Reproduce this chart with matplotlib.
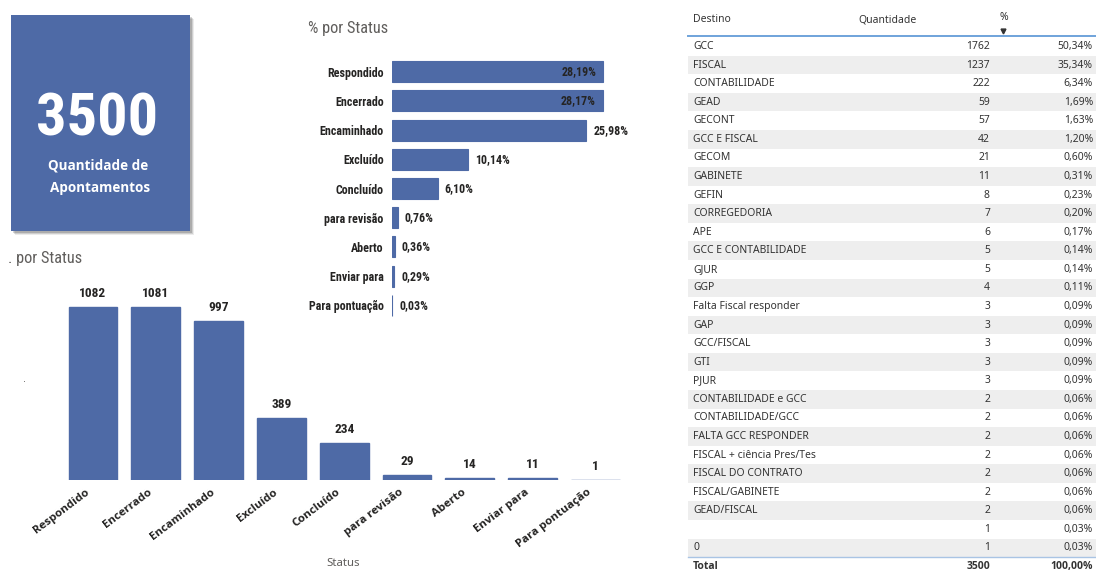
import matplotlib
matplotlib.use("Agg")
import matplotlib.pyplot as plt
from matplotlib import font_manager
from matplotlib.font_manager import FontProperties
from matplotlib.patches import Rectangle
from matplotlib.transforms import ScaledTranslation

# status counts (column chart) and share per status (bar chart)
status = ["Respondido", "Encerrado", "Encaminhado", "Excluído", "Concluído",
          "para revisão", "Aberto", "Enviar para", "Para pontuação"]
status_count = [1082, 1081, 997, 389, 234, 29, 14, 11, 1]
status_pct = [28.19, 28.17, 25.98, 10.14, 6.10, 0.76, 0.36, 0.29, 0.03]

total_apont = 3500

# destination table (visible rows)
destino = ["GCC", "FISCAL", "CONTABILIDADE", "GEAD", "GECONT", "GCC E FISCAL",
           "GECOM", "GABINETE", "GEFIN", "CORREGEDORIA", "APE",
           "GCC E CONTABILIDADE", "GJUR", "GGP", "Falta Fiscal responder",
           "GAP", "GCC/FISCAL", "GTI", "PJUR", "CONTABILIDADE e GCC",
           "CONTABILIDADE/GCC", "FALTA GCC RESPONDER",
           "FISCAL + ciência Pres/Tes", "FISCAL DO CONTRATO",
           "FISCAL/GABINETE", "GEAD/FISCAL", "", "0"]
quantidade = [1762, 1237, 222, 59, 57, 42, 21, 11, 8, 7, 6, 5, 5, 4, 3, 3, 3,
              3, 3, 2, 2, 2, 2, 2, 2, 2, 1, 1]

BLUE = "#4E6AA6"
DARK = "#252423"
GREY = "#605E5C"


def weight_of(f):
    w = f.weight
    if isinstance(w, str):
        w = font_manager.weight_dict.get(w, 400)
    return w


def find_font(names, bold, condensed=False):
    ttf = font_manager.fontManager.ttflist
    for n in names:
        for f in ttf:
            if f.name != n or f.style != "normal":
                continue
            if (weight_of(f) >= 600) != bold:
                continue
            is_cond = "condensed" in str(f.stretch)
            if n in ("Noto Sans", "Open Sans", "Roboto") and is_cond != condensed:
                continue
            return FontProperties(fname=f.fname)
    return None


narrow_names = ["Liberation Sans Narrow", "Roboto Condensed",
                "DejaVu Sans Condensed", "Noto Sans", "Open Sans", "Roboto"]
NB = find_font(narrow_names, True, True) or \
    FontProperties(family="DejaVu Sans", weight="bold")
NR = find_font(narrow_names, False, True) or \
    FontProperties(family="DejaVu Sans")
ui_names = ["Noto Sans", "Open Sans", "Lato", "DejaVu Sans"]
UB = find_font(ui_names, True) or FontProperties(family="DejaVu Sans",
                                                 weight="bold")
UR = find_font(ui_names, False) or FontProperties(family="DejaVu Sans")


def sized(fp, size):
    p = fp.copy()
    p.set_size(size)
    return p


W, H = 1096, 572


def box(x0, y0, x1, y1):
    # pixel box (top-left origin) -> figure fraction
    return [x0 / W, 1 - y1 / H, (x1 - x0) / W, (y1 - y0) / H]


def fmt_pct(v):
    return f"{v:.2f}".replace(".", ",") + "%"


fig = plt.figure(figsize=(W / 100, H / 100), dpi=100)
fig.patch.set_facecolor("white")
renderer = fig.canvas.get_renderer()


def width_px(s, fp):
    t = fig.text(0, 0, s, fontproperties=sized(fp, 10))
    w = t.get_window_extent(renderer).width
    t.remove()
    return w


# fonts sized from the pixel widths of the dashboard texts
F_KPI = sized(NB, 10 * 122 / width_px("3500", NB))
F_CAT = sized(NB, 10 * 57 / width_px("Respondido", NB))
F_VAL = sized(NB, 10 * 27 / width_px("1082", NB))
F_TTL = sized(NR, 10 * 80 / width_px("% por Status", NR))
F_TICK = sized(UB, 10 * 67 / width_px("Respondido", UB))
F_CARD = sized(UB, 10 * 100 / width_px("Quantidade de", UB))
s_tab = 10 * 82 / width_px("CONTABILIDADE", UR)
F_TAB = sized(UR, s_tab)
F_TABB = sized(UB, s_tab)
F_AX = sized(UR, s_tab * 1.1)

page = fig.add_axes([0, 0, 1, 1])
page.set_xlim(0, W)
page.set_ylim(H, 0)
page.axis("off")

# KPI card
for d, a in [(4, 0.08), (3, 0.12), (2, 0.16)]:
    page.add_patch(Rectangle((11 + d, 15 + d), 179, 216, color="#000000",
                             alpha=a, lw=0))
page.add_patch(Rectangle((11, 15), 179, 216, color=BLUE, lw=0))
page.text(97, 119, str(total_apont), color="white", fontproperties=F_KPI,
          ha="center", va="center")
page.text(98, 165, "Quantidade de", color="white", fontproperties=F_CARD,
          ha="center", va="center")
page.text(100, 188, "Apontamentos", color="white", fontproperties=F_CARD,
          ha="center", va="center")

# titles
page.text(308, 29, "% por Status", color=GREY, fontproperties=F_TTL,
          ha="left", va="center")
page.text(8, 258, ". por Status", color=GREY, fontproperties=F_TTL,
          ha="left", va="center")
page.text(24, 379, ".", color=GREY, fontsize=7, ha="center", va="center")
page.text(343, 564, "Status", color=GREY, fontproperties=F_AX,
          ha="center", va="center")

# horizontal bars: % por Status
px_per_pct = 211 / 28.19
hb = fig.add_axes(box(392, 57.1, 660, 319.9))
hb.barh(range(len(status)), status_pct, height=0.72, color=BLUE,
        edgecolor=BLUE, lw=0.8)
hb.set_xlim(0, 268 / px_per_pct)
hb.set_ylim(len(status) - 0.5, -0.5)
hb.set_yticks(range(len(status)))
hb.set_yticklabels(status, fontproperties=F_CAT, color=DARK)
hb.tick_params(axis="y", length=0, pad=6)
hb.set_xticks([])
for s in hb.spines.values():
    s.set_visible(False)
hb.patch.set_alpha(0)
for i, v in enumerate(status_pct):
    inside = i < 2
    hb.annotate(fmt_pct(v), xy=(v, i), xytext=(-5 if inside else 5, 0),
                textcoords="offset points", ha="right" if inside else "left",
                va="center", fontproperties=F_CAT, color=DARK)

# column chart: quantidade por Status
vb = fig.add_axes(box(61.6, 280, 626.8, 480))
vb.bar(range(len(status)), status_count, width=0.78, color=BLUE,
       edgecolor=BLUE, lw=1.0)
vb.set_xlim(-0.5, len(status) - 0.5)
vb.set_ylim(0, 200 / (173 / 1082))
vb.set_yticks([])
vb.set_xticks(range(len(status)))
vb.set_xticklabels(status, rotation=37, ha="right", va="center",
                   rotation_mode="anchor", fontproperties=F_TICK, color=DARK)
vb.tick_params(axis="x", length=0, pad=8)
shift = ScaledTranslation(-5 / 100, 0, fig.dpi_scale_trans)
for lab in vb.get_xticklabels():
    lab.set_transform(lab.get_transform() + shift)
for s in vb.spines.values():
    s.set_visible(False)
vb.patch.set_alpha(0)
for i, v in enumerate(status_count):
    vb.annotate(str(v), xy=(i, v), xytext=(0, 5), textcoords="offset points",
                ha="center", va="bottom", fontproperties=F_VAL, color=DARK)

# destination table
tx0, tx1 = 688, 1096
col_q, col_p = 990, 1093
TXT = "#333333"
page.text(693, 20, "Destino", fontproperties=F_TAB, color=TXT, va="center")
page.text(858, 20, "Quantidade", fontproperties=F_TAB, color=TXT,
          va="center")
page.text(1000, 18, "%", fontproperties=F_TAB, color=TXT, va="center")
page.plot(1003, 31, marker="v", ms=3.5, color=TXT)
page.plot([tx0, tx1], [36, 36], color="#6FA3DA", lw=1.4)

row0, row_h = 46.5, 18.57
for i, (name, q) in enumerate(zip(destino, quantidade)):
    y = row0 + i * row_h
    if i % 2 == 1:
        page.add_patch(Rectangle((tx0, y - row_h / 2), tx1 - tx0, row_h,
                                 color="#EEEEEE", lw=0, zorder=0))
    page.text(693, y, name, fontproperties=F_TAB, color=TXT, va="center")
    page.text(col_q, y, str(q), fontproperties=F_TAB, color=TXT,
              va="center", ha="right")
    page.text(col_p, y, fmt_pct(q / total_apont * 100), fontproperties=F_TAB,
              color=TXT, va="center", ha="right")

ty = row0 + len(destino) * row_h
page.plot([tx0, tx1], [ty - row_h / 2, ty - row_h / 2], color="#A9C4E4",
          lw=1)
page.text(693, ty, "Total", fontproperties=F_TABB, color=TXT, va="center")
page.text(col_q, ty, str(total_apont), fontproperties=F_TABB, color=TXT,
          va="center", ha="right")
page.text(col_p, ty, fmt_pct(100), fontproperties=F_TABB, color=TXT,
          va="center", ha="right")

fig.savefig("out.png", dpi=100)
